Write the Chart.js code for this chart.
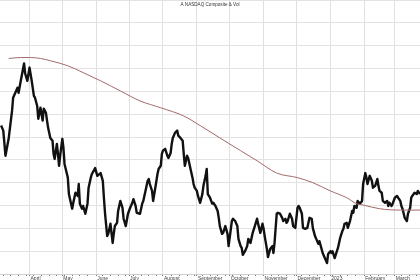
<!DOCTYPE html>
<html>
<head>
<meta charset="utf-8">
<script src="https://cdn.jsdelivr.net/npm/chart.js@4"></script>
<style>
  html, body { margin: 0; padding: 0; background: #fff; }
  #wrap { width: 420px; height: 280px; position: relative; }
</style>
</head>
<body>
<div id="wrap"><canvas id="nasdaqChart"></canvas></div>
<script>
// Tage ab 1. April 2022
const priceDays = [
  -26,-24,-22,-19,-16,-15,-11,-10,-8,-5,-4,-2,0,2,4,5,7,8,10,12,13,15,16,17,19,21,22,23,25,26,27,28,30,31,32,35,
  36,37,39,40,42,44,45,46,48,49,51,53,54,56,57,60,62,65,67,68,69,71,72,74,76,77,78,80,81,83,85,86,88,90,92,94,95,97,98,101,
  103,104,106,108,109,110,112,113,115,117,118,120,121,122,124,126,127,129,130,131,133,135,136,138,140,141,142,144,145,147,149,150,151,153,154,156,158,159,161,162,
  163,165,167,168,170,172,173,174,176,177,179,181,182,183,185,186,188,190,191,193,194,195,197,199,200,202,203,204,206,208,209,211,213,214,215,217,218,220,222,223,224,226,227,229,
  231,232,234,235,236,238,240,241,243,245,246,247,249,250,252,254,255,256,258,259,261,263,264,265,267,268,270,272,273,275,276,277,279,281,282,284,286,287,288,290,291,293,295,296,297,299,300,302,304,305,307,308,309,311,313,314,316,318,319,320,322,323,325,327,328,329,331,332,334,336,337,339,340,341,343,345,346,348,349,350,352,354,355,357
];
const priceValues = [
  13250,13140,12590,12980,13570,13860,14080,13970,14230,14610,14390,14230,14520,14230,13900,13860,13680,13400,13640,13360,13620,13530,13360,13200,12980,12920,12630,12520,12850,12630,12370,12590,12960,12760,12410,12110,
  11750,11640,11430,11560,11780,11710,11970,11540,11430,11490,11320,11540,11890,12110,12190,12320,12150,12210,12040,11670,11340,10830,10880,11100,10680,10880,11050,11120,11380,11600,11450,11210,11050,11320,11450,11560,11640,11490,11340,11320,
  11540,11600,11820,12040,12080,11970,11820,11600,11890,12190,12300,12370,12630,12700,12740,12590,12540,12650,12850,12980,13090,13140,13030,12980,12920,12630,12370,12590,12540,12320,12110,11970,11890,11820,11710,11560,11750,11930,12150,12300,
  11750,11670,11540,11560,11490,11380,11230,11050,10880,10900,11050,10880,10610,10790,11160,11210,11160,11050,10770,10610,10570,10420,10500,10610,10770,10680,10790,10900,11050,11210,11100,10900,11100,10990,10830,10550,10370,10550,10610,10460,10680,11320,11340,11320,
  11230,11160,11210,11120,11160,11320,11210,11050,11010,11450,11490,11450,11320,11010,10990,11010,11120,11230,11210,11010,10830,10720,10660,10720,10550,10460,10350,10240,10440,10500,10460,10500,10350,10500,10570,10790,10940,10990,11100,11120,11010,11160,11380,11340,11490,11450,11600,11540,11600,11970,12210,12110,11970,12150,12040,11890,11930,12080,11930,11820,11780,11600,11560,11600,11490,11560,11490,11540,11670,11710,11670,11600,11490,11430,11230,11160,11320,11450,11670,11710,11780,11750,11820,11750
];

// gleitender Durchschnitt
const maDays = [-19,-8,1,10,19,35,49,65,83,101,120,141,156,174,193,208,226,245,259,275,290,299,305,320,339,357];
const maValues = [14720,14740,14740,14720,14670,14560,14410,14230,14010,13790,13640,13460,13250,12980,12700,12480,12210,12110,12000,11820,11670,11540,11510,11430,11400,11400];

// Monatsanfaenge
const monthDays = [0,30,61,91,122,153,183,214,244,275,306,334];
const monthLabels = ['April','May','June','July','August','September','October','November','December','2023','February','March'];

const chartTitle = 'A NASDAQ Composite & Vol';

const titlePlugin = {
  id: 'topTitle',
  afterDraw(chart) {
    const c = chart.ctx;
    c.save();
    c.font = '4.6px "Liberation Sans", Arial, sans-serif';
    c.fillStyle = '#333';
    c.textAlign = 'center';
    c.textBaseline = 'middle';
    c.fillText(chartTitle, chart.width / 2, 4.5);
    c.restore();
  }
};

const ctx = document.getElementById('nasdaqChart');

new Chart(ctx, {
  type: 'line',
  data: {
    datasets: [{
      label: 'MA',
      data: maDays.map((d, i) => ({ x: d, y: maValues[i] })),
      borderColor: '#a36a6a',
      borderWidth: 1,
      pointRadius: 0,
      cubicInterpolationMode: 'monotone'
    }, {
      label: 'NASDAQ Composite',
      data: priceDays.map((d, i) => ({ x: d, y: priceValues[i] })),
      borderColor: '#111',
      borderWidth: 2.4,
      pointRadius: 0,
      tension: 0,
      borderJoinStyle: 'round'
    }]
  },
  options: {
    responsive: true,
    maintainAspectRatio: false,
    animation: false,
    layout: { padding: { left: 0, right: 0, top: 0, bottom: -2 } },
    plugins: { legend: { display: false }, tooltip: { enabled: false } },
    scales: {
      x: {
        type: 'linear',
        min: -27,
        max: 357,
        afterBuildTicks: (scale) => {
          const t = monthDays.map(v => ({ value: v }));
          // kleine Wochenstriche
          for (let d = -24; d <= 357; d += 7) {
            if (!monthDays.some(m => Math.abs(m - d) < 2)) t.push({ value: d });
          }
          t.sort((a, b) => a.value - b.value);
          scale.ticks = t;
        },
        ticks: {
          autoSkip: false,
          maxRotation: 0,
          align: 'start',
          padding: 0,
          labelOffset: 1,
          color: '#444',
          font: { size: 5, family: '"Liberation Sans", Arial, sans-serif' },
          callback: (value) => {
            const i = monthDays.indexOf(value);
            return i >= 0 ? monthLabels[i] : '';
          }
        },
        grid: {
          color: (c) => (c.tick && monthDays.includes(c.tick.value)) ? '#e0e0e0' : 'rgba(0,0,0,0)',
          tickColor: '#777',
          tickLength: 2,
          lineWidth: 1
        },
        border: { display: true, color: '#cfcfcf' }
      },
      y: {
        min: 10000,
        max: 16000,
        ticks: { display: false, stepSize: 500 },
        grid: { color: '#e3e3e3', drawTicks: false },
        border: { display: false },
        afterFit: (s) => { s.width = 0; }
      }
    }
  },
  plugins: [titlePlugin]
});
</script>
</body>
</html>
